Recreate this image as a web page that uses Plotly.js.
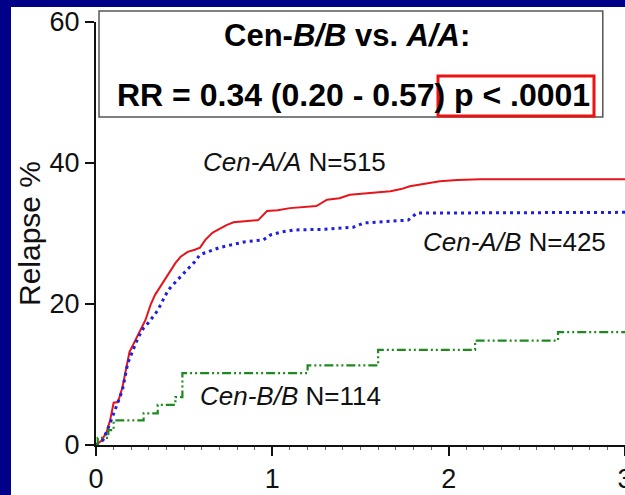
<!DOCTYPE html>
<html>
<head>
<meta charset="utf-8">
<script src="https://cdn.plot.ly/plotly-3.0.1.min.js"></script>
<style>html,body{margin:0;padding:0;background:#000088;}</style>
</head>
<body>
<div id="chart" style="width:625px;height:495px;"></div>
<script>
// Years since transplant
const aaTime = [0, 0.03, 0.06, 0.08, 0.1, 0.125, 0.15, 0.17, 0.19, 0.21, 0.23, 0.26, 0.28, 0.31, 0.335, 0.36, 0.39, 0.42, 0.45, 0.48, 0.52, 0.56, 0.59, 0.62, 0.66, 0.69, 0.74, 0.78, 0.85, 0.92, 0.97, 1.03, 1.1, 1.18, 1.25, 1.31, 1.38, 1.44, 1.5, 1.56, 1.62, 1.67, 1.73, 1.78, 1.85, 1.95, 2.05, 2.18, 3.0];
const aaRelapse = [0, 0.6, 1.8, 3.5, 6.0, 6.1, 8.2, 10.6, 13.2, 14.2, 15.3, 16.7, 17.7, 19.9, 21.3, 22.3, 23.4, 24.7, 25.8, 26.7, 27.4, 27.7, 28.0, 29.1, 30.1, 30.5, 31.2, 31.6, 31.8, 31.9, 33.2, 33.3, 33.6, 33.8, 33.9, 34.8, 35.0, 35.5, 35.6, 35.7, 35.9, 36.0, 36.3, 36.7, 37.0, 37.4, 37.6, 37.7, 37.7];

const abTime = [0, 0.04, 0.08, 0.12, 0.15, 0.18, 0.21, 0.24, 0.27, 0.3, 0.35, 0.38, 0.41, 0.45, 0.49, 0.53, 0.56, 0.59, 0.65, 0.7, 0.77, 0.84, 0.95, 0.99, 1.05, 1.12, 1.3, 1.46, 1.52, 1.6, 1.77, 1.82, 3.0];
const abRelapse = [0, 0.7, 3.1, 5.7, 7.8, 11.6, 13.5, 15.3, 16.6, 17.4, 19.1, 20.6, 22.0, 23.1, 24.1, 25.1, 26.0, 27.0, 27.5, 28.0, 28.4, 28.8, 29.1, 29.8, 30.2, 30.5, 30.6, 30.9, 31.5, 31.6, 31.9, 32.9, 33.0];

const bbTime = [0, 0.01, 0.07, 0.1, 0.27, 0.35, 0.45, 0.49, 1.2, 1.6, 2.15, 2.62, 3.0];
const bbRelapse = [0, 1.0, 2.1, 3.5, 4.5, 5.7, 6.8, 10.2, 11.3, 13.5, 14.8, 16.0, 16.0];

const yTicks = [0, 20, 40, 60];
const xTicks = [0, 1, 2, 3];

const FONT = 'Arial, "Liberation Sans", sans-serif';

const traces = [
  {x: aaTime, y: aaRelapse, mode: 'lines', line: {shape: 'linear', color: '#e8141c', width: 2}, name: 'Cen-A/A'},
  {x: abTime, y: abRelapse, mode: 'lines', line: {shape: 'linear', color: '#1f1fe0', width: 3, dash: '3px,4px'}, name: 'Cen-A/B'},
  {x: bbTime, y: bbRelapse, mode: 'lines', line: {shape: 'hv', color: '#1e8a1e', width: 2.2, dash: '9px,3px,2px,3px,2px,3px'}, name: 'Cen-B/B'}
];

const layout = {
  width: 625, height: 495,
  margin: {l: 96, r: 0, t: 22, b: 50, pad: 0},
  paper_bgcolor: '#000088',
  plot_bgcolor: '#ffffff',
  showlegend: false,
  font: {family: FONT, color: '#111', size: 24},
  xaxis: {
    range: [0, 3], tickvals: xTicks, ticktext: xTicks.map(String),
    showgrid: false, zeroline: false, showline: true, linecolor: '#111', linewidth: 2,
    ticks: 'outside', ticklen: 9, tickwidth: 2, tickcolor: '#111',
    tickfont: {family: FONT, size: 27, color: '#111'},
    ticklabeloverflow: 'allow',
    minor: {dtick: 0.1, ticks: 'outside', ticklen: 3, tickwidth: 1, tickcolor: '#666'}
  },
  yaxis: {
    range: [0, 60], tickvals: yTicks, ticktext: yTicks.map(String),
    showgrid: false, zeroline: false, showline: true, linecolor: '#111', linewidth: 2,
    ticks: 'outside', ticklen: 9, tickwidth: 2, tickcolor: '#111',
    tickfont: {family: FONT, size: 27, color: '#111'},
    title: {text: 'Relapse %', font: {family: FONT, size: 30, color: '#111'}, standoff: 0}
  },
  shapes: [
    {type: 'rect', xref: 'paper', yref: 'paper', x0: -0.1607, x1: 1.05, y0: -0.2, y1: 1.0355,
     fillcolor: '#ffffff', line: {width: 0}, layer: 'below'},
    {type: 'rect', xref: 'paper', yref: 'paper', x0: 0.0057, x1: 0.958, y0: 0.7754, y1: 1.026,
     fillcolor: 'rgba(255,255,255,0)', line: {color: '#555', width: 1.5}, layer: 'above'},
    {type: 'rect', xref: 'paper', yref: 'paper', x0: 0.6465, x1: 0.9414, y0: 0.7778, y1: 0.8723,
     fillcolor: 'rgba(0,0,0,0)', line: {color: '#ee1111', width: 3}, layer: 'above'}
  ],
  annotations: [
    {xref: 'paper', yref: 'paper', x: 0.4745, y: 0.967, xanchor: 'center', yanchor: 'middle', showarrow: false,
     text: '<b>Cen-<i>B/B</i> vs. <i>A/A</i>:</b>', font: {family: FONT, size: 31, color: '#000'}},
    {xref: 'paper', yref: 'paper', x: 0.4868, y: 0.8274, xanchor: 'center', yanchor: 'middle', showarrow: false,
     text: '<b>RR = 0.34 (0.20 - 0.57) p &lt; .0001</b>', font: {family: FONT, size: 32, color: '#000'}},
    {xref: 'paper', yref: 'paper', x: 0.376, y: 0.669, xanchor: 'center', yanchor: 'middle', showarrow: false,
     text: '<i>Cen-A/A</i> N=515', font: {family: FONT, size: 26, color: '#111'}},
    {xref: 'paper', yref: 'paper', x: 0.792, y: 0.48, xanchor: 'center', yanchor: 'middle', showarrow: false,
     text: '<i>Cen-A/B</i> N=425', font: {family: FONT, size: 26, color: '#111'}},
    {xref: 'paper', yref: 'paper', x: 0.367, y: 0.1158, xanchor: 'center', yanchor: 'middle', showarrow: false,
     text: '<i>Cen-B/B</i> N=114', font: {family: FONT, size: 26, color: '#111'}}
  ]
};

Plotly.newPlot('chart', traces, layout, {staticPlot: true, displayModeBar: false});
</script>
</body>
</html>
